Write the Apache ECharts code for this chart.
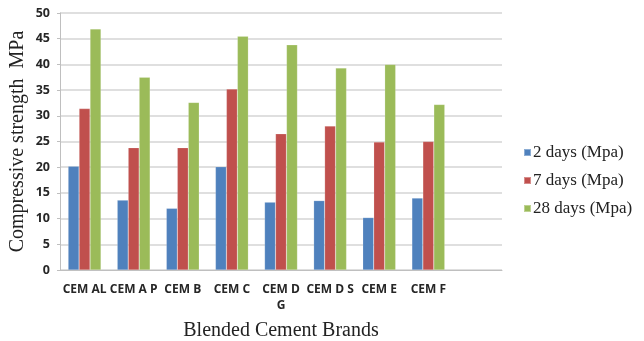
<!DOCTYPE html>
<html>
<head>
<meta charset="utf-8">
<script src="https://cdn.jsdelivr.net/npm/echarts@6/dist/echarts.min.js"></script>
<style>
  html, body { margin: 0; padding: 0; background: #ffffff; }
  #chart { width: 644px; height: 341px; }
</style>
</head>
<body>
<div id="chart"></div>
<script>
// Compressive strength of blended cement brands at 2, 7 and 28 days
const brands = ['CEM AL', 'CEM A P', 'CEM B', 'CEM C', 'CEM D G', 'CEM D S', 'CEM E', 'CEM F', ''];
const seriesNames = ['2 days (Mpa)', '7 days (Mpa)', '28 days (Mpa)'];
const day2 = [20.2, 13.6, 12.0, 20.1, 13.2, 13.5, 10.2, 14.0];
const day7 = [31.4, 23.8, 23.8, 35.2, 26.5, 28.0, 24.9, 25.0];
const day28 = [46.9, 37.5, 32.6, 45.5, 43.8, 39.3, 40.0, 32.2];
const yTicks = { min: 0, max: 50, step: 5 };

const colors = ['#4F81BD', '#C0504D', '#9BBB59'];
const values = [day2, day7, day28];

const chart = echarts.init(document.getElementById('chart'), null, { renderer: 'canvas' });
chart.setOption({
  animation: false,
  backgroundColor: '#ffffff',
  grid: { left: 60, right: 142, top: 13, bottom: 71, containLabel: false, outerBoundsMode: 'none' },
  legend: {
    orient: 'vertical',
    left: 523,
    top: 144,
    padding: 0,
    itemWidth: 7,
    itemHeight: 7,
    itemGap: 11,
    icon: 'rect',
    textStyle: { fontFamily: 'Liberation Serif', fontSize: 17, color: '#222222', padding: [0, 0, 0, -3] },
    data: seriesNames
  },
  xAxis: {
    type: 'category',
    data: brands,
    name: 'Blended Cement Brands',
    nameLocation: 'middle',
    nameGap: 51,
    nameTextStyle: { fontFamily: 'Liberation Serif', fontSize: 20, color: '#222222' },
    axisLine: { lineStyle: { color: '#bfbfbf', width: 1 } },
    axisTick: { show: false },
    axisLabel: {
      interval: 0,
      margin: 12,
      fontFamily: 'Open Sans',
      fontWeight: 700,
      fontSize: 12,
      lineHeight: 16,
      color: '#262626',
      formatter: v => v === 'CEM D G' ? 'CEM D\nG' : v
    }
  },
  yAxis: {
    type: 'value',
    min: yTicks.min,
    max: yTicks.max,
    interval: yTicks.step,
    name: 'Compressive strength  MPa',
    nameLocation: 'middle',
    nameGap: 32,
    nameMoveOverlap: false,
    nameRotate: 90,
    nameTextStyle: { fontFamily: 'Liberation Serif', fontSize: 20, color: '#222222' },
    axisLine: { show: true, lineStyle: { color: '#bfbfbf', width: 1 } },
    axisTick: { show: true, length: 3, lineStyle: { color: '#bfbfbf' } },
    splitLine: { lineStyle: { color: '#d4d4d4', width: 1.5 } },
    axisLabel: {
      margin: 10,
      fontFamily: 'Open Sans',
      fontWeight: 700,
      fontSize: 12.5,
      color: '#262626'
    }
  },
  series: seriesNames.map((name, i) => ({
    name,
    type: 'bar',
    data: values[i],
    barGap: '0%',
    barCategoryGap: '33%',
    itemStyle: { color: colors[i], borderColor: 'rgba(255,255,255,0.35)', borderWidth: 0.5 }
  }))
});
</script>
</body>
</html>
